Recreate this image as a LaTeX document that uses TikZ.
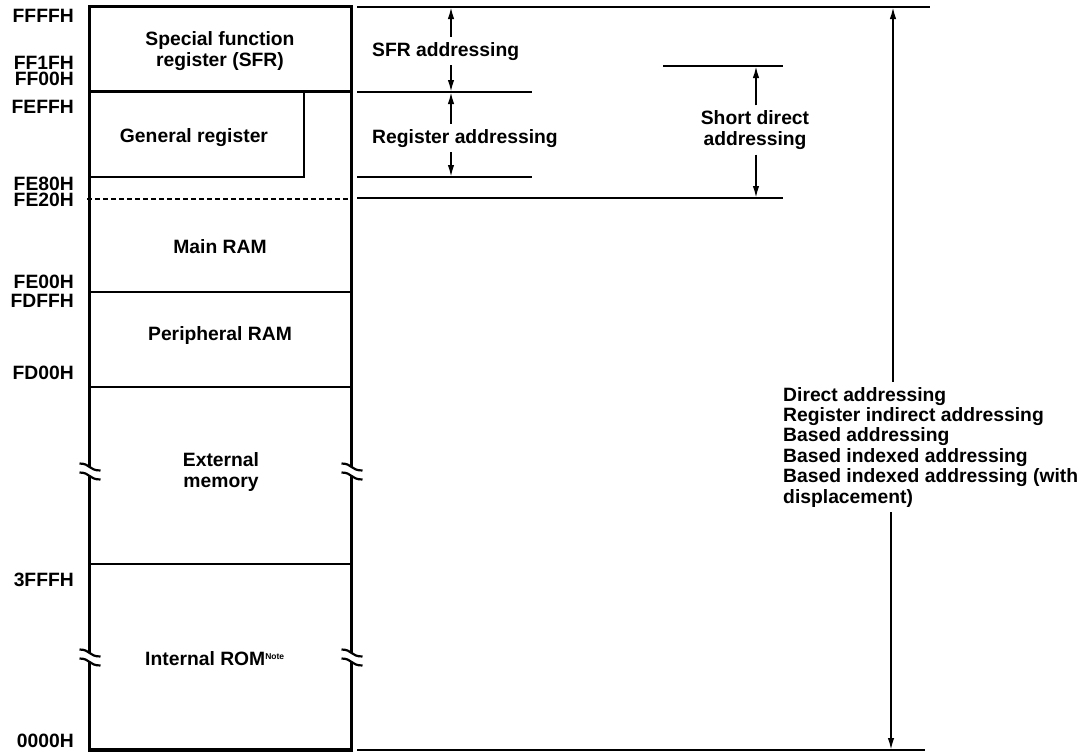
\documentclass[tikz,border=0pt]{standalone}
\usepackage{fontspec}
\setmainfont{Liberation Sans}
\usetikzlibrary{arrows.meta}
\begin{document}
\begin{tikzpicture}[x=1pt,y=-1pt,
  lbl/.style={font=\fontsize{19.3}{21}\selectfont\bfseries, inner sep=0pt},
  addr/.style={lbl, anchor=east},
  alabel/.style={lbl, inner xsep=0pt, inner ysep=5pt},
  boxline/.style={line width=3.8pt, line join=miter},
  divline/.style={line width=2.6pt},
  grline/.style={line width=2pt},
  rline/.style={line width=2pt},
  brk/.style={line width=2.2pt},
  dashline/.style={line width=1.5pt, dash pattern=on 5pt off 3pt},
  arr/.style={line width=1.8pt, -{Latex[length=12pt,width=6.5pt]}}]
\useasboundingbox (0,0) rectangle (1090,753);

% memory column outline, with break marks on both sides
\def\xL{89.5}
\def\xR{351.5}
\draw[boxline] (\xR,467) -- (\xR,6.5) -- (\xL,6.5) -- (\xL,467);
\draw[boxline] (\xL,476) -- (\xL,653);
\draw[boxline] (\xR,476) -- (\xR,653);
\draw[boxline] (\xL,662) -- (\xL,750) -- (\xR,750) -- (\xR,662);
\foreach \x in {\xL,\xR}
  \foreach \y in {467,476,653,662}
    \draw[brk] ({\x-10},{\y-3.5}) .. controls ({\x+1},{\y-3.5}) and ({\x-1},{\y+3.5}) .. ({\x+11},{\y+3.5});

% area boundaries
\draw[divline] (\xL,91.5) -- (\xR,91.5);
\draw[grline] (\xL,177) -- (303.5,177) -- (303.5,91.5);
\draw[dashline] (87,199) -- (\xR,199);
\draw[divline] (\xL,292) -- (\xR,292);
\draw[divline] (\xL,387) -- (\xR,387);
\draw[divline] (\xL,564) -- (\xR,564);

% area names
\node[lbl, align=center] (sfrarea) at (220,51.5) {Special function\\register (SFR)};
\node[lbl, anchor=base] (genreg) at (194,142) {General register};
\node[lbl, anchor=base] (mainram) at (220,253) {Main RAM};
\node[lbl, anchor=base] (periram) at (220,340) {Peripheral RAM};
\node[lbl, align=center] (extmem) at (221,472.5) {External\\memory};
\node[lbl, anchor=base west] (introm) at (145,665) {Internal ROM\raisebox{6pt}{\fontsize{8.5}{9}\selectfont Note}};

% addresses
\node[addr] (aFFFF) at (74,16) {FFFFH};
\node[addr] (aFF1F) at (74,62.5) {FF1FH};
\node[addr] (aFF00) at (74,79) {FF00H};
\node[addr] (aFEFF) at (74,107) {FEFFH};
\node[addr] (aFE80) at (74,183.5) {FE80H};
\node[addr] (aFE20) at (74,199.5) {FE20H};
\node[addr] (aFE00) at (74,282) {FE00H};
\node[addr] (aFDFF) at (74,301) {FDFFH};
\node[addr] (aFD00) at (74,373) {FD00H};
\node[addr] (a3FFF) at (74,580) {3FFFH};
\node[addr] (a0000) at (74,741) {0000H};

% range marks on the right
\draw[rline] (357,7) -- (930,7);
\draw[rline] (357,92) -- (532,92);
\draw[rline] (357,177) -- (532,177);
\draw[line width=2.8pt] (357,198) -- (783,198);
\draw[rline] (663,66) -- (783,66);
\draw[rline] (357,750) -- (925,750);

\coordinate (sfrT) at (451,7);
\coordinate (sfrB) at (451,92);
\coordinate (regT) at (451,92);
\coordinate (regB) at (451,177);
\coordinate (sdT) at (756,66);
\coordinate (sdB) at (756,198);
\coordinate (allT) at (893,7);
\coordinate (allB) at (891,750);

% range names and their arrows
\node[alabel, anchor=base west] (sfrlbl) at (372,56) {SFR addressing};
\node[alabel, anchor=base west] (reglbl) at (372,143) {Register addressing};
\node[alabel, align=center] (sdlbl) at (755,130) {Short direct\\addressing};
\node[alabel, align=left, anchor=north west,
      font=\fontsize{19.3}{20.4}\selectfont\bfseries] (alllbl) at (783,382)
  {Direct addressing\\Register indirect addressing\\Based addressing\\Based indexed addressing\\Based indexed addressing (with\\displacement)};

\draw[arr] (sfrlbl.north -| sfrT) -- (sfrT);
\draw[arr] (sfrlbl.south -| sfrB) -- (sfrB);
\draw[arr] (reglbl.north -| regT) -- (regT);
\draw[arr] (reglbl.south -| regB) -- (regB);
\draw[arr] (sdlbl.north -| sdT) -- (sdT);
\draw[arr] (sdlbl.south -| sdB) -- (sdB);
\draw[arr] (alllbl.north -| allT) -- (allT);
\draw[arr] (alllbl.south -| allB) -- (allB);
\end{tikzpicture}
\end{document}
